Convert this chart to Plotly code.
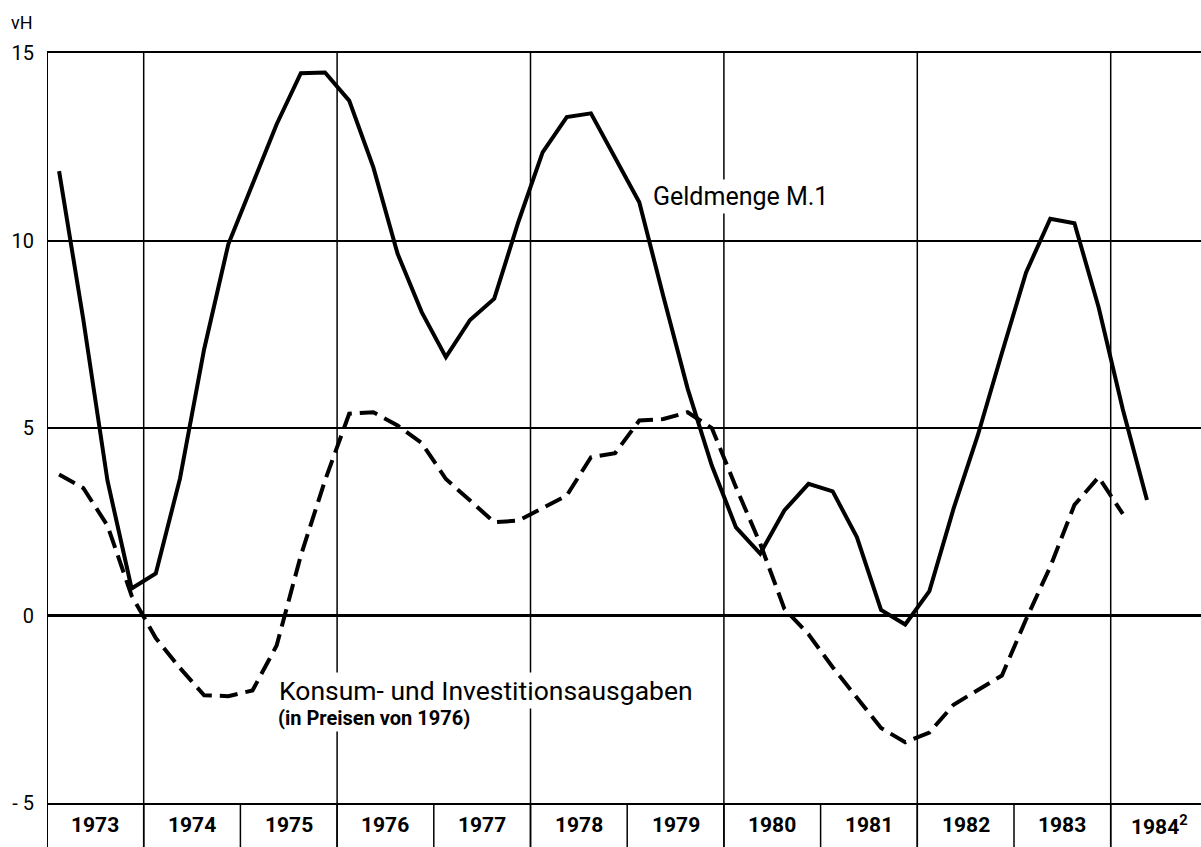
import plotly.graph_objects as go

# ---- data (quarterly growth rates, vH) ----
years = list(range(1973, 1985))
year_labels = ["1973", "1974", "1975", "1976", "1977", "1978", "1979", "1980",
               "1981", "1982", "1983", "1984<sup>2</sup>"]

geldmenge_m1 = [11.85, 7.9, 3.6, 0.72, 1.12, 3.65, 7.1, 9.9, 11.5, 13.1, 14.46, 14.48,
                13.73, 11.95, 9.65, 8.09, 6.89, 7.88, 8.45, 10.5, 12.35, 13.29, 13.39, 12.22,
                11.02, 8.5, 6.05, 4.0, 2.35, 1.65, 2.8, 3.51, 3.31, 2.09, 0.15, -0.24,
                0.65, 2.85, 4.8, 7.0, 9.15, 10.58, 10.46, 8.22, 5.5, 3.08]

konsum_invest = [3.76, 3.4, 2.4, 0.53, -0.6, -1.4, -2.13, -2.15, -2.0, -0.8, 1.6, 3.6,
                 5.38, 5.42, 5.07, 4.6, 3.64, 3.07, 2.49, 2.53, 2.87, 3.2, 4.22, 4.33,
                 5.2, 5.24, 5.42, 5.0, 3.42, 1.92, 0.18, -0.5, -1.38, -2.2, -3.0, -3.38,
                 -3.12, -2.38, -2.0, -1.6, -0.1, 1.3, 2.95, 3.69, 2.71]

y_ticks = [-5, 0, 5, 10, 15]
y_ticktext = ["- 5", "0", "5", "10", "15"]

# quarter centres
def quarters(n):
    return [1973 + 0.125 + 0.25 * i for i in range(n)]

x_m1 = quarters(len(geldmenge_m1))
x_ki = quarters(len(konsum_invest))

W, H = 1201, 847
ML, MT, MB = 47, 53, 44
plot_h = H - MT - MB
band = MB / plot_h  # label band height in paper units
x_max = 1973 + (W - ML) / 96.7

fig = go.Figure()
fig.add_trace(go.Scatter(x=x_ki, y=konsum_invest, mode="lines",
                         line=dict(color="black", width=4, dash="18px,8px"),
                         hoverinfo="skip"))
fig.add_trace(go.Scatter(x=x_m1, y=geldmenge_m1, mode="lines",
                         line=dict(color="black", width=4),
                         hoverinfo="skip"))

shapes = []
# left frame
shapes.append(dict(type="line", xref="x", yref="paper", x0=1973, x1=1973,
                   y0=-band, y1=1, line=dict(color="black", width=2)))
# vertical grid every two years, through label band
for yr in years[1::2]:
    shapes.append(dict(type="line", xref="x", yref="paper", x0=yr, x1=yr,
                       y0=-band, y1=1, line=dict(color="black", width=1.5), layer="below"))
# dividers in label band every year
for yr in years[1:]:
    shapes.append(dict(type="line", xref="x", yref="paper", x0=yr, x1=yr,
                       y0=-band, y1=0, line=dict(color="black", width=1.5)))

annotations = []
for yr, lab in zip(years, year_labels):
    annotations.append(dict(x=yr + 0.5, xref="x", y=-band / 2, yref="paper",
                            text=lab, showarrow=False, xanchor="center", yanchor="middle",
                            font=dict(family="Roboto", size=21, color="black", weight="bold")))
annotations.append(dict(x=0, xref="paper", y=1, yref="paper", xanchor="right", yanchor="middle",
                        xshift=-12, yshift=31, text="vH", showarrow=False,
                        font=dict(family="Roboto", size=18, color="black")))
annotations.append(dict(x=1979.233, xref="x", y=11.17, yref="y", xanchor="left", yanchor="middle",
                        text="Geldmenge M.1", showarrow=False, bgcolor="white", borderpad=2,
                        font=dict(family="Roboto", size=25, color="black")))
annotations.append(dict(x=1975.37, xref="x", y=-2.0, yref="y", xanchor="left", yanchor="middle",
                        text="Konsum- und Investitionsausgaben", showarrow=False, bgcolor="white",
                        borderpad=2, font=dict(family="Roboto", size=26.5, color="black")))
annotations.append(dict(x=1975.37, xref="x", y=-2.74, yref="y", xanchor="left", yanchor="middle",
                        text="(in Preisen von 1976)", showarrow=False, bgcolor="white",
                        borderpad=1, font=dict(family="Roboto", size=20, color="black", weight="bold")))

fig.update_layout(
    width=W, height=H,
    margin=dict(l=ML, r=0, t=MT, b=MB, pad=0),
    paper_bgcolor="white", plot_bgcolor="white",
    showlegend=False,
    shapes=shapes, annotations=annotations,
    xaxis=dict(range=[1973, x_max], showgrid=False, zeroline=False, showticklabels=False,
               ticks="", showline=True, mirror=True, linecolor="black", linewidth=2,
               fixedrange=True),
    yaxis=dict(range=[-5, 15], tickvals=y_ticks, ticktext=y_ticktext, ticks="",
               showgrid=True, gridcolor="black", gridwidth=1.5,
               zeroline=True, zerolinecolor="black", zerolinewidth=3,
               showline=False, ticklabelstandoff=12,
               tickfont=dict(family="Roboto", size=20, color="black"), fixedrange=True),
)

fig.write_html("out.html", config={"displayModeBar": False},
               post_script="document.body.style.margin='0';")
